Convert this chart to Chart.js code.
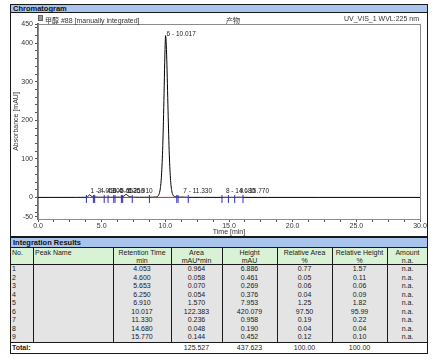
<!DOCTYPE html>
<html><head><meta charset="utf-8">
<script src="https://cdn.jsdelivr.net/npm/chart.js@4.4.0/dist/chart.umd.min.js"></script>
<style>
html,body{margin:0;padding:0;background:#fff}
body{width:440px;height:363px;position:relative;overflow:hidden;font-family:"Liberation Sans",Arial,"Noto Sans CJK SC",sans-serif;color:#111}
.bar{position:absolute;left:10px;width:418px;background:#a9c5ee;border:1px solid #1a1a1a;box-sizing:border-box;font-weight:bold;font-size:7.5px;padding-left:2px;color:#111}
.abs{position:absolute;white-space:nowrap}
#frame{position:absolute;left:10px;top:12px;width:418px;height:225px;border:1px solid #1a1a1a;border-top:none;box-sizing:border-box;pointer-events:none}
#wrap{position:absolute;left:10px;top:13px;width:418px;height:223px}
.hdr{font-size:7px;color:#333;top:15px}
.cell{position:absolute;font-size:7px;line-height:8.5px;white-space:nowrap;color:#1a1a1a}
</style></head>
<body>
<div class="bar" style="top:4px;height:9px;line-height:8px">Chromatogram</div>
<div id="wrap"><canvas id="c" width="418" height="223"></canvas></div>
<div id="frame"></div>
<div class="abs" style="left:38px;top:15px;width:5px;height:6px;background:#999;border:1px solid #666;box-sizing:border-box"></div>
<div class="abs hdr" style="left:45px">甲醇 #88 [manually integrated]</div>
<div class="abs hdr" style="left:226px">产物</div>
<div class="abs hdr" style="right:21px">UV_VIS_1 WVL:225 nm</div>
<div class="bar" style="top:237px;height:11px;line-height:10px">Integration Results</div>
<div id="table"></div>
<script>
// ---- chromatogram trace (time in min, absorbance in mAU) ----
const traceTime = [0.0, 3.0, 3.8, 3.9, 3.97, 4.053, 4.15, 4.3, 4.45, 4.6, 4.75, 5.2, 5.5, 5.653, 5.8, 6.05, 6.25, 6.45, 6.65, 6.8, 6.91, 7.02, 7.2, 7.5, 8.0, 8.75, 9.2, 9.4, 9.5, 9.6, 9.7, 9.8, 9.9, 9.95, 10.0, 10.017, 10.05, 10.1, 10.15, 10.2, 10.3, 10.4, 10.5, 10.6, 10.75, 11.0, 11.2, 11.33, 11.5, 11.8, 13.0, 14.45, 14.68, 14.95, 15.45, 15.77, 16.1, 18.0, 22.0, 26.0, 30.0];
const traceAbs  = [0.0, 0.1, 0.3, 1.5, 4.5, 6.9, 4.0, 1.2, 0.5, 0.9, 0.4, 0.3, 0.3, 0.6, 0.3, 0.4, 0.8, 0.4, 1.5, 5.0, 8.0, 5.5, 1.8, 0.6, 0.4, 0.4, 1.0, 3.0, 8.0, 22, 58, 135, 270, 350, 410, 420, 412, 372, 312, 242, 122, 50, 18, 6, 2, 0.8, 0.7, 1.0, 0.5, 0.2, 0.1, 0.1, 0.2, 0.1, 0.1, 0.45, 0.1, 0.0, 0.0, 0.0, 0.0];

// ---- peaks (integration results) ----
const peakNo        = [1, 2, 3, 4, 5, 6, 7, 8, 9];
const peakName      = ["", "", "", "", "", "", "", "", ""];
const retentionTime = [4.053, 4.600, 5.653, 6.250, 6.910, 10.017, 11.330, 14.680, 15.770];
const peakArea      = [0.964, 0.058, 0.070, 0.054, 1.570, 122.383, 0.236, 0.048, 0.144];
const peakHeight    = [6.886, 0.461, 0.269, 0.376, 7.953, 420.079, 0.958, 0.190, 0.452];
const relArea       = [0.77, 0.05, 0.06, 0.04, 1.25, 97.50, 0.19, 0.04, 0.12];
const relHeight     = [1.57, 0.11, 0.06, 0.09, 1.82, 95.99, 0.22, 0.04, 0.10];
const amount        = ["n.a.", "n.a.", "n.a.", "n.a.", "n.a.", "n.a.", "n.a.", "n.a.", "n.a."];
const totals        = {area: "125.527", height: "437.623", relArea: "100.00", relHeight: "100.00"};

// ---- integration delimiters and baselines ----
const delimTime = [3.8, 4.35, 4.45, 5.2, 5.5, 5.95, 6.05, 6.55, 6.65, 7.4, 8.75, 10.9, 11.0, 11.8, 14.45, 14.95, 15.45, 16.1];
const baseStart = [3.8, 8.75, 14.45];
const baseEnd   = [7.4, 11.8, 16.1];

// ---- axes ----
const xMin = 0, xMax = 30, xMinorStep = 1.25, xLabelStep = 5;
const yMin = -56, yMax = 450;
const yLabels = [-50, 0, 100, 200, 300, 400, 450];
const yMinorStep = 20;

const traceData = traceTime.map((t, i) => ({x: t, y: traceAbs[i]}));
const baseData = [];
baseStart.forEach((s, i) => { baseData.push({x: s, y: 0}, {x: baseEnd[i], y: 0}, {x: baseEnd[i] + 0.01, y: null}); });
const delimData = delimTime.map(t => ({x: t, y: -4}));

const framePlugin = {
  id: 'frame',
  beforeDatasetsDraw(chart) {
    const {ctx, chartArea: a} = chart;
    ctx.save();
    ctx.strokeStyle = '#8c8c8c'; ctx.lineWidth = 1;
    ctx.strokeRect(a.left + 0.5, a.top + 0.5, a.right - a.left, a.bottom - a.top);
    ctx.restore();
  }
};
const labelPlugin = {
  id: 'peakLabels',
  afterDatasetsDraw(chart) {
    const {ctx, scales: {x, y}} = chart;
    const zeroY = y.getPixelForValue(0);
    ctx.save();
    ctx.font = '6.5px "Liberation Sans", Arial, sans-serif';
    ctx.fillStyle = '#222';
    ctx.textBaseline = 'bottom';
    ctx.textAlign = 'left';
    retentionTime.forEach((t, i) => {
      const px = x.getPixelForValue(t) + 1;
      const py = Math.min(y.getPixelForValue(peakHeight[i]) + 2, zeroY - 3);
      ctx.fillText(peakNo[i] + ' - ' + t.toFixed(3), px, py);
    });
    ctx.restore();
  }
};

const tickFont = {family: '"Liberation Sans", Arial, sans-serif', size: 7};
new Chart(document.getElementById('c'), {
  type: 'line',
  data: {datasets: [
    {data: traceData, borderColor: '#000', borderWidth: 1, pointRadius: 0, cubicInterpolationMode: 'monotone', order: 3},
    {data: baseData, borderColor: '#e02020', borderWidth: 1, pointRadius: 0, spanGaps: false, order: 2},
    {data: delimData, showLine: false, pointStyle: 'line', rotation: 90, pointRadius: 4, borderColor: '#2a2ad0', borderWidth: 1, order: 1}
  ]},
  options: {
    responsive: false, animation: false, parsing: true,
    layout: {padding: {top: 11, right: 8, left: 0, bottom: 0}},
    plugins: {legend: {display: false}, tooltip: {enabled: false}},
    scales: {
      x: {
        type: 'linear', min: xMin, max: xMax,
        afterBuildTicks(s) { const t = []; for (let v = xMin; v <= xMax + 1e-9; v += xMinorStep) t.push({value: v}); s.ticks = t; },
        afterFit(s) { s.height = 17; },
        ticks: {autoSkip: false, maxRotation: 0, padding: 0, font: tickFont, color: '#333',
          callback: v => (Math.abs(v / xLabelStep - Math.round(v / xLabelStep)) < 1e-6 ? v.toFixed(1) : '')},
        grid: {drawOnChartArea: false, tickLength: 3, color: '#555'},
        border: {color: '#8c8c8c', width: 1},
        title: {display: true, text: 'Time [min]', font: tickFont, color: '#333', padding: {top: 0, bottom: 0}}
      },
      y: {
        type: 'linear', min: yMin, max: yMax,
        afterBuildTicks(s) {
          const set = new Set(yLabels);
          for (let v = Math.ceil(yMin / yMinorStep) * yMinorStep; v <= yMax; v += yMinorStep) set.add(v);
          s.ticks = [...set].sort((a, b) => a - b).map(v => ({value: v}));
        },
        afterFit(s) { s.width = 28; },
        ticks: {autoSkip: false, padding: 2, font: tickFont, color: '#333',
          callback: v => (yLabels.includes(v) ? String(v) : '')},
        grid: {drawOnChartArea: false, tickLength: 3, color: '#555'},
        border: {color: '#6a6a6a', width: 2},
        title: {display: true, text: 'Absorbance [mAU]', font: tickFont, color: '#333', padding: {top: 2, bottom: 0}}
      }
    }
  },
  plugins: [framePlugin, labelPlugin]
});

// ---- integration results table ----
const colX = [10, 33, 113, 171, 222, 277, 332, 387, 428];
const colAlign = ['left', 'left', 'center', 'center', 'center', 'center', 'center', 'center'];
const headTop = ["No.", "Peak Name", "Retention Time", "Area", "Height", "Relative Area", "Relative Height", "Amount"];
const headBot = ["", "", "min", "mAU*min", "mAU", "%", "%", "n.a."];
const tbl = document.getElementById('table');
const headY = 248, headH = 17, rowY = 265, rowH = 8.5, totY = 342, totH = 12;
function box(l, t, w, h, css) { const d = document.createElement('div'); d.style.cssText = `position:absolute;left:${l}px;top:${t}px;width:${w}px;height:${h}px;` + (css || ''); tbl.appendChild(d); return d; }
function txt(c, top, s, bold) {
  const l = colX[c] + (colAlign[c] === 'left' ? 2 : 0), w = colX[c + 1] - colX[c] - (colAlign[c] === 'left' ? 2 : 0);
  const d = box(l, top, w, rowH, `text-align:${colAlign[c]};`); d.className = 'cell'; d.textContent = s; if (bold) d.style.fontWeight = 'bold';
}
box(colX[0], headY, colX[8] - colX[0], headH, 'background:#d9f2d6;');
box(colX[0], rowY, colX[8] - colX[0], totY - rowY, 'background:#e4e4e4;');
box(colX[0], totY, colX[8] - colX[0], totH, 'background:#fff;');
for (let c = 0; c < colX.length; c++) {
  const full = (c === 0 || c === colX.length - 1);
  box(colX[c] - (c === colX.length - 1 ? 1 : 0), headY, 1, (full ? totY + totH : totY) - headY, 'background:#1a1a1a;');
}
box(colX[0], rowY - 1, colX[8] - colX[0], 1, 'background:#1a1a1a;');
box(colX[0], totY, colX[8] - colX[0], 1, 'background:#1a1a1a;');
box(colX[0], totY + totH - 1, colX[8] - colX[0], 1, 'background:#1a1a1a;');
headTop.forEach((s, c) => { txt(c, headY + 1, s); txt(c, headY + 8.5, headBot[c]); });
for (let i = 0; i < peakNo.length; i++) {
  const y = rowY + 0.2 + i * rowH;
  const vals = [String(peakNo[i]), peakName[i], retentionTime[i].toFixed(3), peakArea[i].toFixed(3), peakHeight[i].toFixed(3), relArea[i].toFixed(2), relHeight[i].toFixed(2), amount[i]];
  vals.forEach((s, c) => txt(c, y, s));
}
const ty = totY + 2;
txt(0, ty, 'Total:', true);
txt(3, ty, totals.area); txt(4, ty, totals.height); txt(5, ty, totals.relArea); txt(6, ty, totals.relHeight);
</script>
</body></html>
